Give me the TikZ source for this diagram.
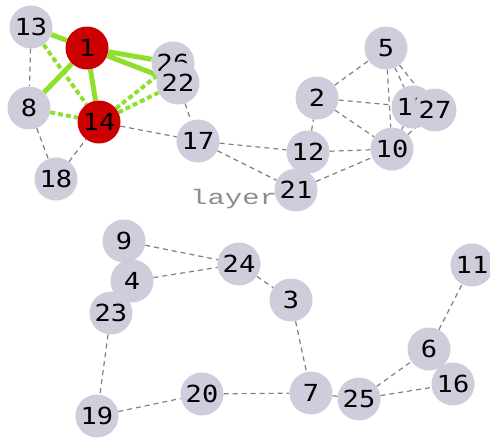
\documentclass[tikz,border=0pt]{standalone}
\usepackage{fontspec,graphicx}
\usetikzlibrary{backgrounds}
\newfontfamily\numfont{DejaVu Sans Mono}
\newfontfamily\tagfont{Liberation Mono}
\definecolor{vxfill}{HTML}{CDCDDC}
\definecolor{hotred}{HTML}{CC0000}
\definecolor{lime}{HTML}{8FE02E}
\definecolor{linkgray}{HTML}{808080}
\newcommand{\vxnum}[1]{\scalebox{1.15}[1]{#1}}
\tikzset{vx/.style={circle,fill=vxfill,minimum size=43pt,inner sep=0pt,
    font=\numfont\fontsize{23.5pt}{24pt}\selectfont},
  hot/.style={vx,fill=hotred},
  link/.style={draw=linkgray,line width=1.2pt,dash pattern=on 5pt off 4pt},
  strong/.style={draw=lime,line width=5pt},
  weak/.style={draw=lime,line width=4pt,dash pattern=on 5pt off 3pt}}

\begin{document}
\begin{tikzpicture}[x=1pt,y=-1pt]
\useasboundingbox (0,0) rectangle (490,437);
\node[text=linkgray!90,anchor=base west,inner sep=0pt,font=\tagfont\fontsize{21pt}{21pt}\selectfont]
  (tag) at (190,204) {\scalebox{1.38}[1]{layer 1}};
% upper group
\node[vx] (n13) at (31,27) {\vxnum{13}};
\node[hot] (n1) at (87,48) {\vxnum{1}};
\node[vx] (n26) at (173,63) {\vxnum{26}};
\node[vx] (n22) at (178,83) {\vxnum{22}};
\node[vx] (n8) at (29,108) {\vxnum{8}};
\node[hot] (n14) at (99,122) {\vxnum{14}};
\node[vx] (n18) at (56,179) {\vxnum{18}};
\node[vx] (n17) at (198,141) {\vxnum{17}};
\node[vx] (n5) at (386,48) {\vxnum{5}};
\node[vx] (n2) at (317,98) {\vxnum{2}};
\node[vx] (n15) at (413,107) {\vxnum{15}};
\node[vx] (n27) at (435,110) {\vxnum{27}};
\node[vx] (n10) at (392,149) {\vxnum{10}};
\node[vx] (n12) at (308,152) {\vxnum{12}};
\node[vx] (n21) at (296,190) {\vxnum{21}};
% lower group
\node[vx] (n9) at (124,241) {\vxnum{9}};
\node[vx] (n4) at (132,281) {\vxnum{4}};
\node[vx] (n23) at (111,313) {\vxnum{23}};
\node[vx] (n24) at (239,264) {\vxnum{24}};
\node[vx] (n3) at (291,300) {\vxnum{3}};
\node[vx] (n11) at (472,265) {\vxnum{11}};
\node[vx] (n6) at (429,349) {\vxnum{6}};
\node[vx] (n16) at (453,384) {\vxnum{16}};
\node[vx] (n7) at (311,393) {\vxnum{7}};
\node[vx] (n25) at (359,399) {\vxnum{25}};
\node[vx] (n20) at (202,394) {\vxnum{20}};
\node[vx] (n19) at (97,416) {\vxnum{19}};
\begin{scope}[on background layer]
\draw[link] (n13)--(n8) (n8)--(n18) (n18)--(n14) (n14)--(n17) (n22)--(n17)
  (n17)--(n12) (n17)--(n21) (n12)--(n2) (n12)--(n10) (n21)--(n10)
  (n2)--(n5) (n2)--(n15) (n2)--(n10) (n5)--(n10) (n5)--(n15) (n5)--(n27)
  (n10)--(n15) (n10)--(n27);
\draw[link] (n9)--(n24) (n4)--(n24) (n24)--(n3) (n3)--(n7) (n23)--(n19)
  (n19)--(n20) (n20)--(n7) (n7)--(n25) (n25)--(n6) (n25)--(n16) (n6)--(n11);
\draw[weak] (n13)--(n14) (n8)--(n14) (n14)--(n26) (n14)--(n22);
\draw[strong] (n13)--(n1) (n1)--(n8) (n1)--(n14) (n1)--(n26) (n1)--(n22);
\end{scope}
\end{tikzpicture}
\end{document}
